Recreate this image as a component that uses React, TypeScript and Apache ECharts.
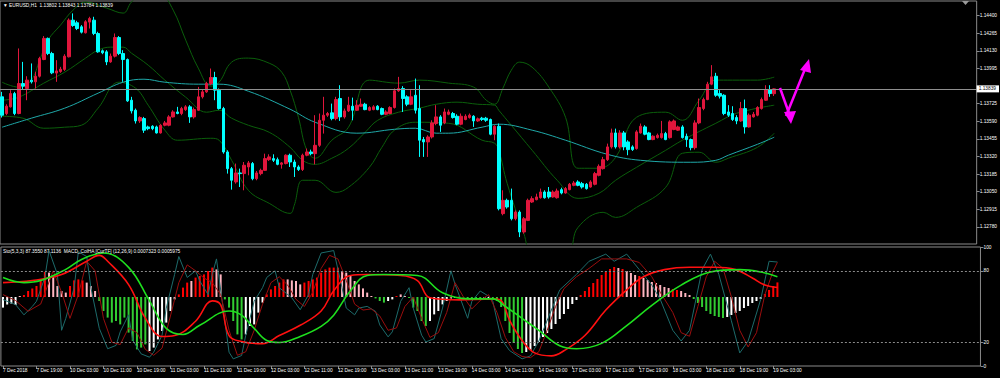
import React, { useEffect, useRef } from "react";
import * as echarts from "echarts";

const SLOTS = 234;
const tickLabels = ["7 Dec 2018","7 Dec 19:00","10 Dec 03:00","10 Dec 11:00","10 Dec 19:00","11 Dec 03:00","11 Dec 11:00","11 Dec 19:00","12 Dec 03:00","12 Dec 11:00","12 Dec 19:00","13 Dec 03:00","13 Dec 11:00","13 Dec 19:00","14 Dec 03:00","14 Dec 11:00","14 Dec 19:00","17 Dec 03:00","17 Dec 11:00","17 Dec 19:00","18 Dec 03:00","18 Dec 11:00","18 Dec 19:00","19 Dec 03:00"];
const priceTicks = [1.144, 1.14265, 1.1413, 1.13995, 1.13725, 1.1359, 1.13455, 1.1332, 1.13185, 1.1305, 1.12915, 1.1278, 1.12645];
const stochTicks = [0, 20, 80, 100];
const lastPrice = 1.13839;

const open = [1.13778,1.13650,1.13701,1.13803,1.13650,1.13880,1.13842,1.13906,1.13893,1.13936,
1.14064,1.14226,1.14110,1.13960,1.13972,1.13988,1.14085,1.14366,1.14346,1.14315,
1.14269,1.14351,1.14366,1.14264,1.14131,1.14123,1.14046,1.14090,1.14233,1.14110,
1.14064,1.13752,1.13675,1.13593,1.13611,1.13547,1.13552,1.13547,1.13501,1.13560,
1.13560,1.13624,1.13662,1.13650,1.13680,1.13701,1.13624,1.13675,1.13778,1.13816,
1.13880,1.13926,1.13829,1.13688,1.13355,1.13227,1.13125,1.13194,1.13189,1.13240,
1.13266,1.13150,1.13189,1.13214,1.13296,1.13304,1.13296,1.13260,1.13266,1.13330,
1.13278,1.13240,1.13220,1.13330,1.13355,1.13342,1.13406,1.13598,1.13637,1.13655,
1.13611,1.13765,1.13624,1.13670,1.13706,1.13675,1.13706,1.13721,1.13675,1.13680,
1.13706,1.13688,1.13644,1.13650,1.13696,1.13824,1.13842,1.13778,1.13721,1.13790,
1.13688,1.13450,1.13432,1.13470,1.13573,1.13624,1.13578,1.13644,1.13650,1.13629,
1.13568,1.13604,1.13619,1.13629,1.13593,1.13614,1.13614,1.13604,1.13491,1.13552,
1.12882,1.12984,1.12984,1.12843,1.12894,1.12741,1.12830,1.12971,1.12989,1.13004,
1.13048,1.13048,1.13010,1.13004,1.13066,1.13040,1.13066,1.13099,1.13125,1.13112,
1.13107,1.13086,1.13107,1.13176,1.13227,1.13296,1.13394,1.13501,1.13394,1.13501,
1.13432,1.13394,1.13381,1.13501,1.13547,1.13501,1.13450,1.13465,1.13465,1.13496,
1.13465,1.13527,1.13522,1.13547,1.13475,1.13450,1.13388,1.13578,1.13688,1.13757,
1.13875,1.13936,1.13803,1.13790,1.13662,1.13650,1.13619,1.13593,1.13688,1.13547,
1.13624,1.13637,1.13688,1.13752,1.13834,1.13802];
const close = [1.13637,1.13706,1.13803,1.13650,1.13880,1.13860,1.13906,1.13893,1.13936,1.14072,
1.14226,1.14110,1.13962,1.13977,1.13990,1.14090,1.14366,1.14325,1.14302,1.14274,
1.14354,1.14379,1.14264,1.14123,1.14116,1.14046,1.14090,1.14233,1.14110,1.14064,
1.13747,1.13670,1.13593,1.13619,1.13522,1.13534,1.13534,1.13501,1.13560,1.13578,
1.13624,1.13662,1.13650,1.13688,1.13701,1.13624,1.13680,1.13778,1.13816,1.13880,
1.13926,1.13829,1.13688,1.13355,1.13227,1.13138,1.13194,1.13189,1.13253,1.13271,
1.13150,1.13194,1.13214,1.13304,1.13317,1.13291,1.13260,1.13271,1.13330,1.13278,
1.13240,1.13220,1.13330,1.13355,1.13342,1.13406,1.13598,1.13637,1.13650,1.13611,
1.13757,1.13624,1.13670,1.13714,1.13675,1.13714,1.13721,1.13680,1.13696,1.13701,
1.13680,1.13644,1.13662,1.13696,1.13824,1.13842,1.13765,1.13721,1.13778,1.13675,
1.13445,1.13432,1.13470,1.13578,1.13624,1.13560,1.13662,1.13662,1.13619,1.13568,
1.13629,1.13629,1.13637,1.13593,1.13609,1.13604,1.13598,1.13491,1.13552,1.12920,
1.12984,1.12933,1.12843,1.12894,1.12741,1.12843,1.12984,1.12997,1.13010,1.13048,
1.13004,1.13010,1.13048,1.13056,1.13040,1.13074,1.13107,1.13117,1.13099,1.13086,
1.13074,1.13125,1.13189,1.13245,1.13296,1.13394,1.13501,1.13394,1.13501,1.13394,
1.13373,1.13373,1.13509,1.13552,1.13491,1.13450,1.13476,1.13483,1.13496,1.13450,
1.13586,1.13593,1.13547,1.13465,1.13450,1.13388,1.13578,1.13696,1.13757,1.13875,
1.13931,1.13790,1.13783,1.13650,1.13637,1.13604,1.13593,1.13688,1.13547,1.13637,
1.13644,1.13696,1.13757,1.13834,1.13803,1.13839];
const high = [1.13816,1.13721,1.13829,1.13816,1.14149,1.14046,1.13936,1.14034,1.13970,1.14085,
1.14244,1.14233,1.14123,1.14059,1.14008,1.14105,1.14379,1.14418,1.14361,1.14328,
1.14366,1.14392,1.14392,1.14277,1.14141,1.14136,1.14110,1.14264,1.14244,1.14136,
1.14072,1.13778,1.13688,1.13629,1.13624,1.13557,1.13560,1.13557,1.13568,1.13593,
1.13637,1.13675,1.13701,1.13701,1.13714,1.13714,1.13696,1.13854,1.13834,1.13893,
1.13995,1.13970,1.13842,1.13701,1.13368,1.13240,1.13266,1.13227,1.13278,1.13286,
1.13278,1.13209,1.13227,1.13342,1.13337,1.13337,1.13312,1.13278,1.13337,1.13342,
1.13296,1.13253,1.13342,1.13381,1.13373,1.13637,1.13650,1.13778,1.13662,1.13726,
1.13778,1.13867,1.13688,1.13778,1.13772,1.13752,1.13765,1.13732,1.13706,1.13714,
1.13714,1.13696,1.13675,1.13706,1.13842,1.13931,1.13860,1.13790,1.13829,1.13918,
1.13867,1.13470,1.13483,1.13598,1.13714,1.13637,1.13688,1.13680,1.13662,1.13644,
1.13650,1.13644,1.13650,1.13637,1.13619,1.13624,1.13624,1.13611,1.13560,1.13573,
1.13061,1.12997,1.13074,1.12907,1.12907,1.12856,1.12997,1.13015,1.13035,1.13074,
1.13061,1.13086,1.13061,1.13074,1.13081,1.13086,1.13117,1.13132,1.13138,1.13125,
1.13117,1.13138,1.13202,1.13260,1.13317,1.13419,1.13534,1.13534,1.13522,1.13516,
1.13445,1.13406,1.13522,1.13573,1.13560,1.13509,1.13483,1.13496,1.13593,1.13509,
1.13598,1.13604,1.13557,1.13560,1.13496,1.13458,1.13598,1.13765,1.13772,1.13893,
1.14021,1.13962,1.13829,1.13798,1.13714,1.13706,1.13637,1.13739,1.13757,1.13650,
1.13662,1.13706,1.13772,1.13867,1.13867,1.13843];
const low = [1.13619,1.13637,1.13696,1.13637,1.13644,1.13834,1.13752,1.13880,1.13842,1.13926,
1.14059,1.14098,1.13952,1.13893,1.13962,1.13977,1.14080,1.14315,1.14290,1.14264,
1.14264,1.14302,1.14251,1.14116,1.14105,1.14021,1.14039,1.14080,1.14098,1.13893,
1.13739,1.13650,1.13573,1.13578,1.13501,1.13522,1.13522,1.13496,1.13496,1.13552,
1.13552,1.13619,1.13644,1.13637,1.13670,1.13578,1.13611,1.13670,1.13765,1.13808,
1.13867,1.13752,1.13680,1.13342,1.13189,1.13066,1.13112,1.13086,1.13061,1.13176,
1.13138,1.13138,1.13176,1.13209,1.13286,1.13278,1.13253,1.13227,1.13260,1.13240,
1.13163,1.13209,1.13209,1.13322,1.13330,1.13260,1.13394,1.13496,1.13624,1.13598,
1.13598,1.13593,1.13611,1.13662,1.13598,1.13670,1.13701,1.13675,1.13668,1.13675,
1.13675,1.13637,1.13637,1.13644,1.13688,1.13816,1.13662,1.13706,1.13714,1.13650,
1.13317,1.13317,1.13317,1.13458,1.13560,1.13509,1.13568,1.13637,1.13611,1.13560,
1.13560,1.13598,1.13611,1.13547,1.13586,1.13593,1.13586,1.13483,1.13445,1.12907,
1.12869,1.12920,1.12830,1.12830,1.12702,1.12728,1.12825,1.12964,1.12984,1.12997,
1.12997,1.12997,1.13004,1.12997,1.13030,1.13035,1.13061,1.13092,1.13092,1.13074,
1.13066,1.13081,1.13099,1.13168,1.13220,1.13286,1.13381,1.13381,1.13381,1.13368,
1.13330,1.13363,1.13373,1.13496,1.13483,1.13445,1.13445,1.13458,1.13458,1.13445,
1.13458,1.13522,1.13516,1.13458,1.13394,1.13368,1.13373,1.13568,1.13675,1.13752,
1.13867,1.13778,1.13765,1.13637,1.13624,1.13593,1.13568,1.13586,1.13496,1.13542,
1.13619,1.13629,1.13680,1.13747,1.13778,1.13784];

// moving average (teal) and Bollinger bands (dark green): [bar, price]
const maLine = [[0,1.13545],[7,1.13614],[15,1.13691],[23,1.13806],[29,1.13890],[34,1.13913],[39,1.13890],[47,1.13875],[52,1.13875],[59,1.13821],[69,1.13683],[75,1.13583],[85,1.13499],[94,1.13529],[99,1.13537],[104,1.13499],[107,1.13499],[115,1.13545],[119,1.13568],[127,1.13522],[135,1.13445],[145,1.13337],[153,1.13291],[165,1.13276],[171,1.13291],[174,1.13330],[181,1.13414],[185,1.13468]];
const bbUpper = [[0,1.13890],[4,1.13852],[7,1.13906],[9,1.14059],[11,1.14213],[14,1.14328],[17,1.14443],[20,1.14505],[25,1.14459],[29,1.14420],[31,1.14505],[34,1.14581],[38,1.14566],[41,1.14443],[44,1.14213],[47,1.13998],[50,1.13860],[52,1.13890],[55,1.14044],[59,1.14075],[64,1.14036],[67,1.13967],[69,1.13829],[71,1.13621],[73,1.13368],[75,1.13307],[79,1.13445],[83,1.13545],[88,1.13906],[95,1.13883],[100,1.13906],[107,1.13883],[113,1.13852],[116,1.13752],[118,1.13721],[120,1.13844],[122,1.13982],[124,1.14044],[127,1.14005],[131,1.13852],[135,1.13621],[138,1.13230],[143,1.13230],[147,1.13314],[152,1.13621],[159,1.13660],[163,1.13598],[167,1.13752],[171,1.13906],[175,1.13906],[181,1.13906],[185,1.13929]];
const bbMiddle = [[0,1.13752],[4,1.13775],[10,1.13883],[15,1.13967],[20,1.14075],[23,1.14136],[26,1.14159],[29,1.14159],[31,1.14113],[35,1.14021],[39,1.13906],[44,1.13775],[49,1.13660],[52,1.13675],[55,1.13614],[59,1.13560],[64,1.13506],[69,1.13391],[72,1.13291],[75,1.13260],[79,1.13307],[83,1.13383],[87,1.13506],[90,1.13598],[95,1.13660],[100,1.13691],[104,1.13721],[109,1.13737],[114,1.13721],[118,1.13714],[119,1.13675],[122,1.13560],[127,1.13368],[133,1.13138],[138,1.12999],[143,1.13038],[147,1.13138],[152,1.13237],[159,1.13368],[163,1.13445],[171,1.13575],[176,1.13652],[185,1.13714]];
const bbLower = [[0,1.13629],[5,1.13614],[10,1.13537],[15,1.13545],[19,1.13560],[23,1.13691],[28,1.13890],[32,1.13844],[35,1.13714],[39,1.13522],[42,1.13445],[50,1.13460],[52,1.13445],[55,1.13291],[59,1.13061],[64,1.12961],[69,1.12884],[70,1.12946],[72,1.13138],[75,1.13138],[80,1.13045],[83,1.13084],[88,1.13237],[91,1.13391],[94,1.13522],[99,1.13583],[107,1.13575],[115,1.13445],[118,1.13422],[119,1.13368],[121,1.13115],[125,1.12731],[127,1.12562],[133,1.12508],[136,1.12585],[138,1.12777],[144,1.12892],[147,1.12853],[152,1.12930],[159,1.13084],[163,1.13345],[167,1.13353],[171,1.13276],[174,1.13307],[181,1.13391],[185,1.13499]];

// lower window: MACD_ColHA histogram + colour codes (r, p, g, w)
const histValues = [-0.00053,-0.00037,-0.00033,-0.0004,0.00005,0.0001,0.0003,0.00043,0.00055,0.0008,
0.00125,0.00122,0.00105,0.00055,0.0003,0.00022,0.00055,0.00083,0.00088,0.00083,
0.00072,0.00055,0.0003,-0.0002,-0.0007,-0.00103,-0.00128,-0.0012,-0.00137,-0.00103,
-0.00178,-0.0022,-0.00262,-0.00253,-0.00237,-0.0027,-0.00253,-0.00212,-0.0017,-0.00128,
-0.0007,-0.00012,0.00013,0.00047,0.00072,0.0008,0.00097,0.00105,0.00113,0.0013,
0.00147,0.00138,0.00113,-0.00012,-0.00053,-0.0012,-0.00187,-0.00212,-0.00187,-0.00145,
-0.00137,-0.00078,-0.00028,0.00013,0.00038,0.00055,0.00072,0.00088,0.00088,0.00083,
0.0008,0.00063,0.00072,0.0008,0.00088,0.00097,0.00122,0.00138,0.00147,0.00147,
0.00147,0.0013,0.00122,0.00105,0.0008,0.00063,0.00043,0.00022,0.00005,-0.00007,
-0.0002,-0.00028,-0.0002,-0.00012,0.00005,0.00013,0.00005,-0.00005,-0.00053,-0.0007,
-0.0012,-0.00145,-0.0012,-0.00087,-0.0007,-0.00037,-0.0002,-0.00008,-0.00005,0.00003,
-0.00003,-0.00007,-0.00008,-0.0001,-0.00013,-0.0001,-0.00007,-0.00012,-0.0002,-0.0005,
-0.0012,-0.0018,-0.0023,-0.0026,-0.0028,-0.00275,-0.00265,-0.00245,-0.00225,-0.002,
-0.0018,-0.0016,-0.00135,-0.0011,-0.00085,-0.0006,-0.00035,-0.00015,0.0001,0.0003,
0.0005,0.0007,0.0009,0.0011,0.00125,0.0014,0.0015,0.00145,0.0014,0.0013,
0.0012,0.0011,0.00105,0.00095,0.00085,0.00075,0.0007,0.0006,0.0005,0.00045,
0.0004,0.00035,0.0003,0.0002,0.0001,-0.0001,-0.0003,-0.0005,-0.0007,-0.00085,
-0.00095,-0.001,-0.00105,-0.001,-0.0009,-0.0008,-0.0007,-0.00055,-0.00045,-0.0003,
-0.0002,-0.0001,0.00015,0.00035,0.00055,0.00073];
const histColorRuns = ["wwww","p","rrrrrr","ppppp","rrrr","ppp","gggggggggggg","wwwwwww","rrr","p","rrrrr","pp","ggggg","wwwww","rrrrr","pppp","rrrrrrrrr","pppppppp","ggg","ww","r","pp","ggggg","wwwwwww","r","ggggg","ww","gggggggg","wwwwwwwwwwwww","rrrrrrrrr","p","r","ppp","r","ppppppp","rr","ppp","gggggggg","wwwwwwwww","rrrr"];

// stochastic %K / %D and the two smooth lines: [bar, value]
const stochK = [[0,55.8],[3,51.6],[5,43],[7,50],[8,54.4],[10,74.4],[11,97],[13,77],[14,30],[15,40],[17,65.8],[18,96],[20,92],[21,65.8],[23,31.6],[25,14.5],[27,17.3],[28,28.7],[30,43],[31,21.6],[33,10.2],[35,7.4],[36,11.6],[38,25.9],[39,48.7],[41,77],[42,92],[44,74.4],[46,80],[47,71.5],[49,60],[50,77],[51,90],[54,11.6],[55,6],[57,8.8],[58,25.9],[60,54.4],[62,65.8],[63,74.4],[65,80],[66,65.8],[69,57.3],[71,47.3],[73,60],[74,77],[76,95],[79,97],[81,65.8],[82,48.7],[84,43],[85,48.7],[87,50.1],[89,45.9],[90,34.5],[92,24.5],[93,28.7],[95,54.4],[97,65.8],[98,48.7],[100,25.9],[101,20.2],[103,23],[105,48.7],[107,80],[108,68.6],[111,40.1],[112,54.4],[114,63],[116,58.7],[117,54.4],[119,23],[121,13],[124,6],[126,8.5],[128,21],[131,47],[133,64],[137,77],[140,88],[144,94],[146,88],[149,94],[152,81],[155,68],[157,56],[160,30],[162,21],[164,30],[167,81],[169,94],[171,77],[174,38],[176,11],[178,21],[181,56],[183,88],[185,87.36]];
const stochD = [[0,60],[3,55],[6,46],[9,52],[12,80],[14,62],[16,40],[18,60],[20,88],[22,80],[24,40],[26,20],[28,18],[30,32],[32,28],[34,14],[36,9],[38,15],[40,42],[42,70],[44,85],[46,80],[48,74],[50,70],[52,60],[54,30],[56,9],[58,12],[60,30],[62,52],[64,70],[66,75],[68,68],[70,56],[72,50],[74,62],[76,82],[78,93],[80,90],[82,72],[84,52],[86,47],[88,48],[90,42],[92,30],[94,32],[96,50],[98,58],[100,40],[102,24],[104,28],[106,45],[108,70],[110,58],[112,48],[114,55],[116,60],[118,45],[120,24],[122,12],[124,8],[126,7],[128,12],[130,30],[132,50],[134,65],[137,75],[140,82],[143,90],[146,90],[149,90],[152,87],[155,75],[157,62],[160,45],[162,28],[164,25],[166,50],[168,75],[170,88],[172,82],[174,58],[176,30],[178,16],[180,28],[182,60],[184,80],[185,87.11]];
const redLine = [[0,70.1],[7,71.8],[14,76.9],[20,88],[23,93],[25,88],[30,68.4],[34,40.2],[38,24.8],[41,25.6],[46,37.6],[50,54.7],[52,51.3],[54,25.6],[57,20.5],[62,18.8],[66,25.6],[71,34.2],[76,46.2],[79,63.2],[83,76.1],[87,76.9],[95,76.1],[99,71.8],[102,57.3],[109,55.6],[117,56.4],[119,55],[121,38.5],[124,21.4],[127,11],[131,8.5],[134,12.8],[139,25.6],[144,47],[149,64],[153,75],[158,81],[164,83],[170,83],[175,81],[179,74],[182,68],[185,66]];
const greenLine = [[0,74.4],[5,70.1],[9,71.8],[15,81.2],[19,90],[24,95],[30,82.9],[35,54.7],[39,31.6],[43,26.5],[47,34.2],[54,46.2],[57,42.7],[60,31.6],[63,21.4],[66,19.7],[71,24.8],[76,33.3],[79,42.7],[83,63.2],[87,76.1],[91,76.9],[99,76.1],[105,61.5],[111,56.4],[117,56.4],[120,50],[124,40],[128,30],[133,17],[137,14.5],[143,19],[149,34],[155,51],[162,68],[169,79],[176,81],[181,79],[185,75]];

const FONT = "Liberation Sans";
const FS = 4.8;
const FRAME = "#8a8a8a";

export default function App() {
  const ref = useRef<HTMLDivElement>(null);
  useEffect(() => {
    document.body.style.margin = "0";
    document.body.style.background = "#000";
    const chart = echarts.init(ref.current!, null, { renderer: "svg" });
    const cats = Array.from({ length: SLOTS }, (_, i) => String(i));
    const colorMap: Record<string, string> = { r: "#ff0000", p: "#ffb6c1", g: "#32cd32", w: "#ffffff" };
    const codes = histColorRuns.join("");
    const labelAt = (i: number) => (i % 8 === 0 && i / 8 < tickLabels.length ? tickLabels[i / 8] : "");
    const candles = open.map((o, i) => [o, close[i], low[i], high[i]]);
    const thin = (data: number[][], color: string, width: number, smooth: number | boolean, x = 0, y = 0, z = 2) => ({
      type: "line", xAxisIndex: x, yAxisIndex: y, data, symbol: "none", smooth, z,
      lineStyle: { color, width }, silent: true,
    });
    const option: any = {
      animation: false,
      backgroundColor: "#000",
      grid: [
        { left: 0, top: 1, width: 980.46, height: 243, show: true, borderColor: FRAME, borderWidth: 1 },
        { left: 0, top: 247, width: 980.46, height: 119, show: true, borderColor: FRAME, borderWidth: 1 },
      ],
      xAxis: [
        { type: "category", gridIndex: 0, data: cats, axisLine: { show: false }, axisTick: { show: false }, axisLabel: { show: false }, splitLine: { show: false } },
        {
          type: "category", gridIndex: 1, data: cats, axisLine: { show: false },
          axisTick: { show: true, alignWithLabel: true, length: 3, interval: (i: number) => labelAt(i) !== "", lineStyle: { color: FRAME } },
          axisLabel: { interval: (i: number) => labelAt(i) !== "", formatter: (_v: string, i: number) => labelAt(i), color: "#fff", fontSize: FS, fontFamily: FONT, align: "left", margin: 2 },
          splitLine: { show: false },
        },
      ],
      yAxis: [
        {
          type: "value", gridIndex: 0, position: "right", min: 1.12649, max: 1.14513,
          axisLine: { show: false }, splitLine: { show: false },
          axisTick: { show: true, length: 3, customValues: priceTicks, lineStyle: { color: FRAME } },
          axisLabel: { customValues: priceTicks, formatter: (v: number) => v.toFixed(5), color: "#fff", fontSize: FS, fontFamily: FONT, margin: 3 },
        },
        {
          type: "value", gridIndex: 1, position: "right", min: 0, max: 100,
          axisLine: { show: false }, splitLine: { show: false },
          axisTick: { show: true, length: 3, customValues: stochTicks, lineStyle: { color: FRAME } },
          axisLabel: { customValues: stochTicks, formatter: (v: number) => String(v), color: "#fff", fontSize: FS, fontFamily: FONT, margin: 3 },
        },
        { type: "value", gridIndex: 1, min: -0.00345, max: 0.0025, show: false },
      ],
      series: [
        thin(bbUpper, "#0b5e0b", 1, 0.4),
        thin(bbMiddle, "#0b5e0b", 1, 0.4),
        thin(bbLower, "#0b5e0b", 1, 0.4),
        {
          ...thin(maLine, "#1fa8a8", 1, 0.4),
          markLine: {
            silent: true, symbol: "none", animation: false, precision: 5,
            lineStyle: { color: "#8f8f8f", width: 1, type: "solid" },
            label: { show: true, position: "end", formatter: lastPrice.toFixed(5), backgroundColor: "#ffffff", color: "#000", fontSize: FS, fontFamily: FONT, padding: [1, 3, 1, 2], distance: 0 },
            data: [{ yAxis: lastPrice }],
          },
        },
        {
          type: "candlestick", xAxisIndex: 0, yAxisIndex: 0, data: candles, barWidth: 3, z: 3,
          itemStyle: { color: "#e0163c", color0: "#00ffff", borderColor: "#e0163c", borderColor0: "#00ffff", borderWidth: 1 },
        },
        {
          type: "bar", xAxisIndex: 1, yAxisIndex: 2, barWidth: 2, z: 1, silent: true,
          data: histValues.map((v, i) => ({ value: v, itemStyle: { color: colorMap[codes[i]] || "#ffffff" } })),
        },
        {
          ...thin(stochK, "#1d6b6b", 1, false, 1, 1, 3),
          markLine: {
            silent: true, symbol: "none", animation: false,
            lineStyle: { color: "#8a8a8a", width: 1, type: [2, 2] },
            label: { show: false },
            data: [{ yAxis: 80 }, { yAxis: 20 }],
          },
        },
        thin(stochD, "#9a0e0e", 1, false, 1, 1, 3),
        thin(redLine, "#ff1010", 1.6, 0.4, 1, 1, 4),
        thin(greenLine, "#1ee01e", 1.6, 0.4, 1, 1, 4),
      ],
      graphic: [
        { type: "text", left: 3, top: 3, z: 10, style: { text: "\u25BC EURUSD,H1  1.13802 1.13843 1.13784 1.13839", fill: "#ffffff", fontSize: FS, fontFamily: FONT } },
        { type: "text", left: 3, top: 249, z: 10, style: { text: "Sto(5,3,3) 87.3550 87.1136  MACD_ColHA [CurTF] (12,26,9) 0.0007323 0.0005975", fill: "#ffffff", fontSize: FS, fontFamily: FONT } },
        { type: "polygon", z: 10, shape: { points: [[962, 1], [969, 1], [965.5, 5]] }, style: { fill: "#9a9a9a" } },
        { type: "polyline", z: 10, shape: { points: [[780, 88], [790, 116]] }, style: { stroke: "#ff00ff", lineWidth: 2.5 } },
        { type: "polygon", z: 10, shape: { points: [[791, 124], [784, 112], [796, 111]] }, style: { fill: "#ff00ff" } },
        { type: "polyline", z: 10, shape: { points: [[786, 116], [805, 69]] }, style: { stroke: "#ff00ff", lineWidth: 2.5 } },
        { type: "polygon", z: 10, shape: { points: [[809, 59], [800, 70], [811, 73]] }, style: { fill: "#ff00ff" } },
      ],
    };
    chart.setOption(option);
    return () => chart.dispose();
  }, []);
  return <div ref={ref} style={{ position: "absolute", left: 0, top: 0, width: 1000, height: 378, background: "#000" }} />;
}
